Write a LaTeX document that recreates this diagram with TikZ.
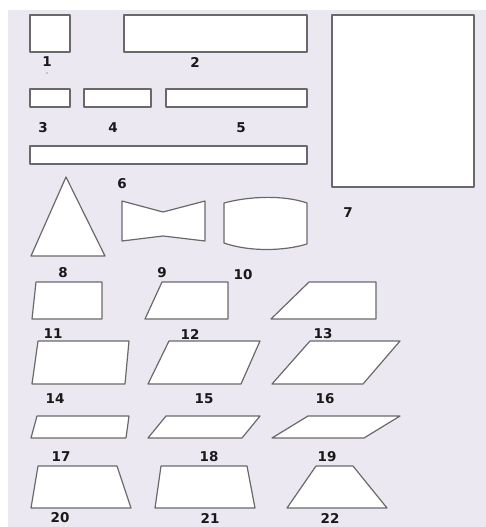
\documentclass[tikz,border=0pt]{standalone}
\usepackage{fontspec}
\setmainfont{DejaVu Sans}
\definecolor{bg}{RGB}{236,232,242}
\definecolor{edge}{RGB}{105,105,105}
\tikzset{
  shp/.style={draw=edge, fill=white, line width=1.2pt, line join=round},
  lbl/.style={font=\fontsize{13.5}{13.5}\selectfont\bfseries, inner sep=0pt, text=black!90}
}
\begin{document}
\begin{tikzpicture}[x=1pt,y=-1pt]
\useasboundingbox (0,0) rectangle (486,527);
\fill[white] (0,0) rectangle (486,527);
\fill[bg] (8,10) rectangle (486,527);
% row 1
\draw[shp] (30,15) rectangle (70,52);
\draw[shp] (124,15) rectangle (307,52);
\draw[shp] (332,15) rectangle (474,187);
\node[lbl] (l1) at (47,62) {1};
\fill[black!70] (47,73) circle (0.7);
\node[lbl] (l2) at (195,62) {2};
% row 2
\draw[shp] (30,89) rectangle (70,107);
\draw[shp] (84,89) rectangle (151,107);
\draw[shp] (166,89) rectangle (307,107);
\node[lbl] (l3) at (43,128) {3};
\node[lbl] (l4) at (113,128) {4};
\node[lbl] (l5) at (241,128) {5};
% long bar
\draw[shp] (30,146) rectangle (307,164);
\node[lbl] (l6) at (122,184) {6};
\node[lbl] (l7) at (348,213) {7};
% triangle, bowtie, barrel
\draw[shp] (66,177) -- (105,256) -- (31,256) -- cycle;
\draw[shp] (122,201) -- (163,212) -- (205,201) -- (205,241) -- (163,236) -- (122,241) -- cycle;
\draw[shp] (224,203) .. controls (250,196) and (284,195) .. (307,203)
  -- (307,244) .. controls (284,251) and (250,252) .. (224,243) -- cycle;
\node[lbl] (l8) at (63,273) {8};
\node[lbl] (l9) at (162,273) {9};
\node[lbl] (l10) at (243,275) {10};
% row of 11-13
\draw[shp] (36,282) -- (102,282) -- (102,319) -- (32,319) -- cycle;
\draw[shp] (162,282) -- (228,282) -- (228,319) -- (145,319) -- cycle;
\draw[shp] (309,282) -- (376,282) -- (376,319) -- (271,319) -- cycle;
\node[lbl] (l11) at (53,334) {11};
\node[lbl] (l12) at (190,334) {12};
\node[lbl] (l13) at (323,334) {13};
% row 14-16
\draw[shp] (38,341) -- (129,341) -- (125,384) -- (32,384) -- cycle;
\draw[shp] (169,341) -- (260,341) -- (241,384) -- (148,384) -- cycle;
\draw[shp] (310,341) -- (400,341) -- (363,384) -- (272,384) -- cycle;
\node[lbl] (l14) at (55,399) {14};
\node[lbl] (l15) at (204,399) {15};
\node[lbl] (l16) at (325,399) {16};
% row 17-19
\draw[shp] (37,416) -- (129,416) -- (126,438) -- (31,438) -- cycle;
\draw[shp] (166,416) -- (260,416) -- (242,438) -- (148,438) -- cycle;
\draw[shp] (308,416) -- (400,416) -- (364,438) -- (272,438) -- cycle;
\node[lbl] (l17) at (61,457) {17};
\node[lbl] (l18) at (209,457) {18};
\node[lbl] (l19) at (327,457) {19};
% row 20-22
\draw[shp] (38,466) -- (117,466) -- (131,508) -- (31,508) -- cycle;
\draw[shp] (161,466) -- (247,466) -- (255,508) -- (155,508) -- cycle;
\draw[shp] (316,466) -- (353,466) -- (387,508) -- (287,508) -- cycle;
\node[lbl] (l20) at (60,518) {20};
\node[lbl] (l21) at (210,518) {21};
\node[lbl] (l22) at (330,518) {22};
\end{tikzpicture}
\end{document}
